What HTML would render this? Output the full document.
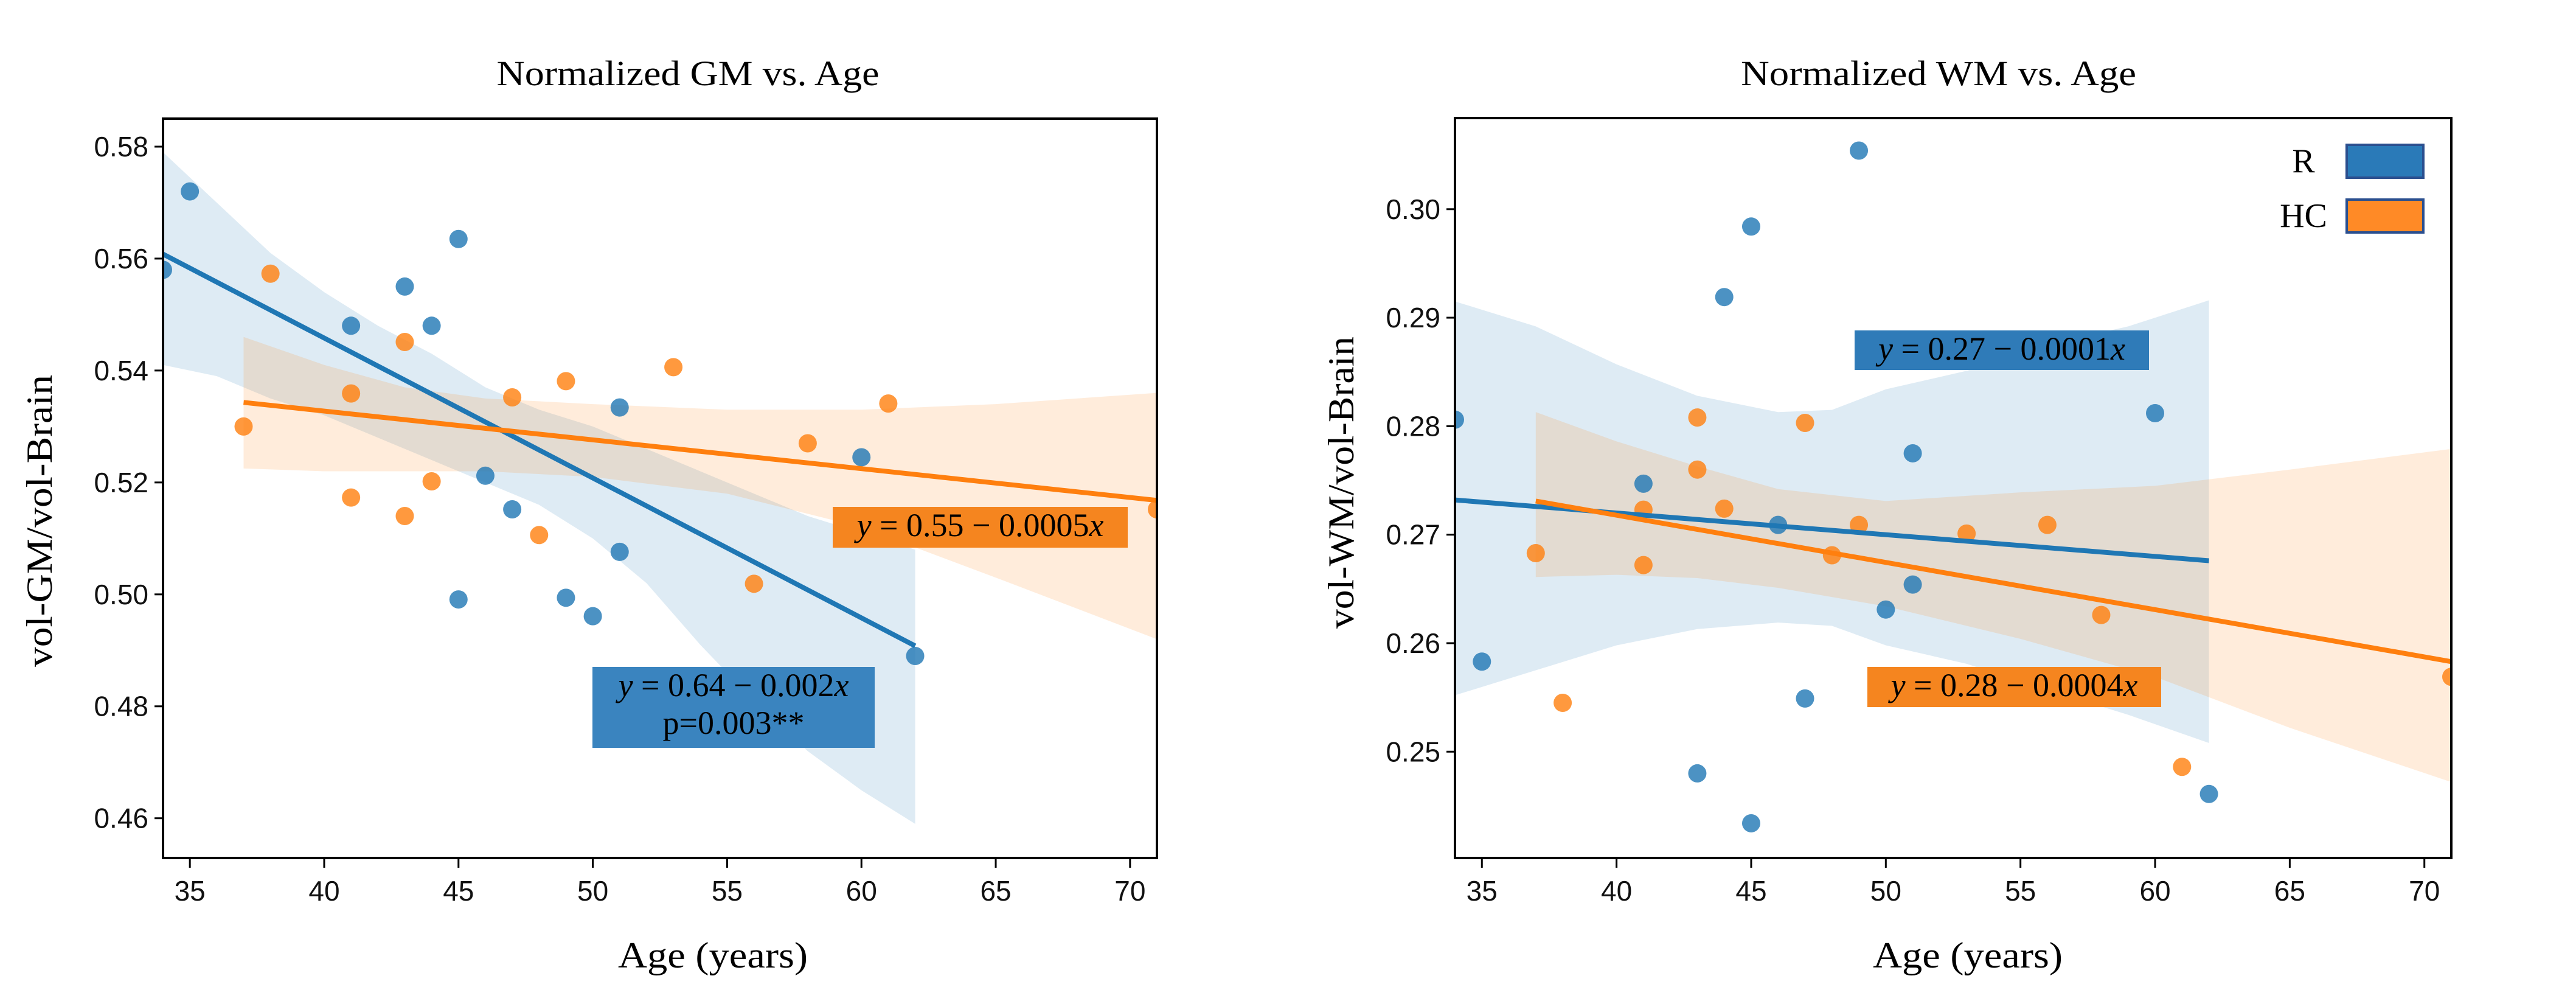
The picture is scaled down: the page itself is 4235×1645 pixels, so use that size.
<!DOCTYPE html>
<html><head><meta charset="utf-8"><style>
body{margin:0;background:#fff}
svg{display:block}
text{font-family:"Liberation Sans",sans-serif}
.serif{font-family:"Liberation Serif",serif}
</style></head><body>
<svg id="fig" width="4235" height="1645" xmlns="http://www.w3.org/2000/svg"></svg>
<script>
// ---- GM panel data ----
const gmRAge=[34,35,45,43,41,44,51,46,47,51,45,49,50,60,62];
const gmRVal=[0.558,0.572,0.5635,0.555,0.548,0.548,0.5334,0.5212,0.5152,0.5076,0.4991,0.4994,0.4961,0.5245,0.489];
const gmHAge=[37,38,41,43,41,43,44,47,48,49,53,56,58,61,71];
const gmHVal=[0.530,0.5573,0.5359,0.5451,0.5173,0.514,0.5202,0.5352,0.5106,0.5381,0.5406,0.5019,0.527,0.5341,0.5152];
const gmRFit=[[34,0.5608],[62,0.4908]];
const gmHFit=[[37,0.5343],[71,0.5168]];
const gmRBandX=[34,36,38,40,42,44,46,48,50,52,54,56,58,60,62];
const gmRBandHi=[0.579,0.570,0.561,0.554,0.548,0.543,0.537,0.533,0.530,0.526,0.522,0.518,0.514,0.511,0.508];
const gmRBandLo=[0.541,0.539,0.535,0.532,0.528,0.524,0.520,0.516,0.510,0.502,0.491,0.481,0.472,0.465,0.459];
const gmHBandX=[37,40,43,46,50,55,60,65,71];
const gmHBandHi=[0.546,0.541,0.537,0.535,0.534,0.533,0.533,0.534,0.536];
const gmHBandLo=[0.5225,0.522,0.522,0.522,0.521,0.518,0.512,0.503,0.492];
const gmYTicks=[0.46,0.48,0.50,0.52,0.54,0.56,0.58];
const gmYTickLabels=["0.46","0.48","0.50","0.52","0.54","0.56","0.58"];
// ---- WM panel data ----
const wmRAge=[34,35,49,45,44,41,46,51,60,51,50,47,43,45,62];
const wmRVal=[0.2806,0.2583,0.3054,0.2984,0.2919,0.2747,0.2709,0.2775,0.2812,0.2654,0.2631,0.2549,0.2480,0.2434,0.2461];
const wmHAge=[37,38,41,41,43,43,44,47,49,48,53,56,58,61,71];
const wmHVal=[0.2683,0.2545,0.2723,0.2672,0.2808,0.2760,0.2724,0.2803,0.2709,0.2681,0.2701,0.2709,0.2626,0.2486,0.2569];
const wmRFit=[[34,0.2732],[62,0.2676]];
const wmHFit=[[37,0.2731],[71,0.2583]];
const wmRBandX=[34,37,40,43,46,48,50,53,56,59,62];
const wmRBandHi=[0.2915,0.2892,0.2857,0.2828,0.2813,0.2815,0.2834,0.2851,0.2875,0.2892,0.2916];
const wmRBandLo=[0.2552,0.2575,0.2598,0.2613,0.2619,0.2616,0.2598,0.2581,0.2557,0.2534,0.2508];
const wmHBandX=[37,40,43,46,50,55,60,65,71];
const wmHBandHi=[0.2813,0.2786,0.2763,0.2742,0.2731,0.2739,0.2745,0.2760,0.2779];
const wmHBandLo=[0.2661,0.2663,0.2660,0.2651,0.2634,0.2604,0.2569,0.2522,0.2472];
const wmYTicks=[0.25,0.26,0.27,0.28,0.29,0.30];
const wmYTickLabels=["0.25","0.26","0.27","0.28","0.29","0.30"];
const xTicks=[35,40,45,50,55,60,65,70];
const xTickLabels=["35","40","45","50","55","60","65","70"];

const NS="http://www.w3.org/2000/svg";
const svg=document.getElementById('fig');
function mk(tag,attrs,parent){const e=document.createElementNS(NS,tag);for(const k in attrs)e.setAttribute(k,attrs[k]);(parent||svg).appendChild(e);return e;}

function panel(o){
  const g=mk('g',{});
  
  
  const sx=v=>o.L+(v-34)/(71-34)*(o.R-o.L);
  const sy=v=>o.B-(v-o.ymin)/(o.ymax-o.ymin)*(o.B-o.T);
  const clip=mk('clipPath',{id:'c'+o.name},g);
  mk('rect',{x:o.L,y:o.T,width:o.R-o.L,height:o.B-o.T},clip);
  const cg=mk('g',{'clip-path':'url(#c'+o.name+')'},g);
  function band(X,H,Lo,col,nm){
    let d='M'+X.map((x,i)=>sx(x)+','+sy(H[i])).join('L');
    for(let i=X.length-1;i>=0;i--)d+='L'+sx(X[i])+','+sy(Lo[i]);
    const p=mk('path',{d:d+'Z',fill:col,'fill-opacity':0.15},cg);
    
    
  }
  band(o.rbx,o.rbh,o.rbl,'#1f77b4','r-confidence-band');
  band(o.hbx,o.hbh,o.hbl,'#ff7f0e','hc-confidence-band');
  function pts(A,V,col,nm){
    A.forEach((a,i)=>{const c=mk('circle',{cx:sx(a),cy:sy(V[i]),r:15,fill:col,'fill-opacity':0.8},cg);
      
      });
  }
  pts(o.ra,o.rv,'#1f77b4','r-point');
  pts(o.ha,o.hv,'#ff7f0e','hc-point');
  function line(F,col,nm){const l=mk('line',{x1:sx(F[0][0]),y1:sy(F[0][1]),x2:sx(F[1][0]),y2:sy(F[1][1]),stroke:col,'stroke-width':8},cg);
    
    }
  line(o.rf,'#1f77b4','r-regression-line');
  line(o.hf,'#ff7f0e','hc-regression-line');
  const fr=mk('rect',{x:o.L,y:o.T,width:o.R-o.L,height:o.B-o.T,fill:'none',stroke:'#000','stroke-width':4},g);
  
  
  o.yt.forEach((v,i)=>{mk('line',{x1:o.L-14,x2:o.L,y1:sy(v),y2:sy(v),stroke:'#000','stroke-width':3},g);
    const t=mk('text',{x:o.L-24,y:sy(v)+16,'text-anchor':'end','font-size':46,fill:'#111'},g);t.textContent=o.ytl[i];
    
    });
  xTicks.forEach((v,i)=>{mk('line',{x1:sx(v),x2:sx(v),y1:o.B,y2:o.B+16,stroke:'#000','stroke-width':3},g);
    const t=mk('text',{x:sx(v),y:o.B+70,'text-anchor':'middle','font-size':46,fill:'#111'},g);t.textContent=xTickLabels[i];
    
    });
  const ti=mk('text',{x:o.tx,y:140,'text-anchor':'middle','font-size':58,'class':'serif',textLength:o.tl,lengthAdjust:'spacingAndGlyphs'},g);ti.textContent=o.title;
  
  
  const xl=mk('text',{x:o.xlx,y:1590,'text-anchor':'middle','font-size':60,'class':'serif',textLength:312,lengthAdjust:'spacingAndGlyphs'},g);xl.textContent='Age (years)';
  
  
  const yl=mk('text',{x:0,y:0,'text-anchor':'middle','font-size':60,'class':'serif',transform:'translate('+(o.ylx+20)+','+o.yly+') rotate(-90)',textLength:480,lengthAdjust:'spacingAndGlyphs'},g);yl.textContent=o.ylab;
  
  
  return g;
}
function eqBox(x,y,w,h,col,lines,nm){
  const g=mk('g',{});
  
  
  mk('rect',{x:x,y:y,width:w,height:h,fill:col},g);
  lines.forEach((ln,i)=>{const t=mk('text',{x:x+w/2,y:y+48+i*62,'text-anchor':'middle','font-size':54,'class':'serif'},g);t.innerHTML=ln;});
}
panel({name:'gm-panel',L:268,R:1902,T:195,B:1410,ymin:0.4529,ymax:0.585,
  ra:gmRAge,rv:gmRVal,ha:gmHAge,hv:gmHVal,rf:gmRFit,hf:gmHFit,
  rbx:gmRBandX,rbh:gmRBandHi,rbl:gmRBandLo,hbx:gmHBandX,hbh:gmHBandHi,hbl:gmHBandLo,
  yt:gmYTicks,ytl:gmYTickLabels,title:'Normalized GM vs. Age',tx:1131,tl:629,xlx:1172,ylx:65,yly:856,ylab:'vol-GM/vol-Brain'});
panel({name:'wm-panel',L:2392,R:4030,T:194,B:1410,ymin:0.2402,ymax:0.3084,
  ra:wmRAge,rv:wmRVal,ha:wmHAge,hv:wmHVal,rf:wmRFit,hf:wmHFit,
  rbx:wmRBandX,rbh:wmRBandHi,rbl:wmRBandLo,hbx:wmHBandX,hbh:wmHBandHi,hbl:wmHBandLo,
  yt:wmYTicks,ytl:wmYTickLabels,title:'Normalized WM vs. Age',tx:3187,tl:650,xlx:3235,ylx:2205,yly:793,ylab:'vol-WM/vol-Brain'});
eqBox(974,1096,464,133,'#3a84bf',['<tspan font-style="italic">y</tspan> = 0.64 − 0.002<tspan font-style="italic">x</tspan>','p=0.003**'],'gm-r-equation');
eqBox(1369,833,485,67,'#f5851f',['<tspan font-style="italic">y</tspan> = 0.55 − 0.0005<tspan font-style="italic">x</tspan>'],'gm-hc-equation');
eqBox(3049,543,484,65,'#2f7bb8',['<tspan font-style="italic">y</tspan> = 0.27 − 0.0001<tspan font-style="italic">x</tspan>'],'wm-r-equation');
eqBox(3070,1096,483,66,'#f5851f',['<tspan font-style="italic">y</tspan> = 0.28 − 0.0004<tspan font-style="italic">x</tspan>'],'wm-hc-equation');
// legend
const lg=mk('g',{});


[['R','#2a7ab8',238],['HC','#ff8a26',328]].forEach(e=>{
  const it=mk('g',{},lg);
  
  
  mk('rect',{x:3858,y:e[2],width:126,height:54,fill:e[1],stroke:'#2b4f8f','stroke-width':4},it);
  const t=mk('text',{x:3787,y:e[2]+45,'text-anchor':'middle','font-size':56,'class':'serif'},it);t.textContent=e[0];
});
</script>
</body></html>
